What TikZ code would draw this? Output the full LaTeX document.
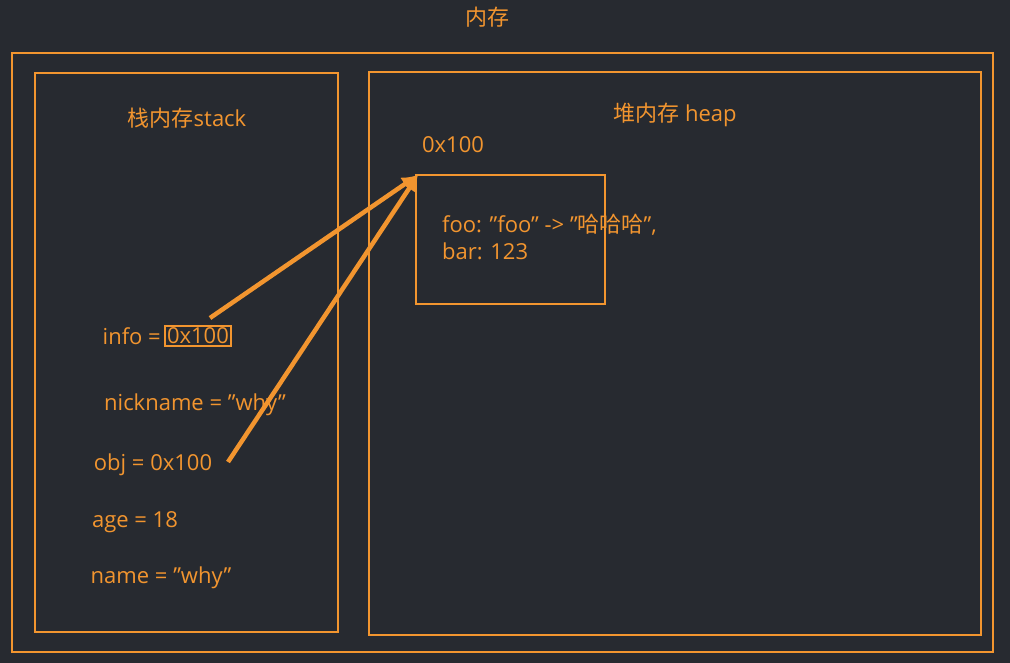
\documentclass[tikz,border=0pt]{standalone}
\usepackage{fontspec}
\usetikzlibrary{arrows.meta}
\setmainfont{Open Sans}
\newfontfamily\cjk{Noto Sans CJK SC}
\begin{document}
\begin{tikzpicture}[x=1pt,y=-1pt,
  box/.style={draw=org,line width=2.2pt},
  lbl/.style={text=org,font=\fontsize{22}{27}\selectfont,inner sep=1pt},
  arr/.style={draw=org,line width=4.5pt,-{Latex[length=16pt,width=16pt]}}]
\definecolor{bg}{HTML}{272A30}
\definecolor{org}{HTML}{F2952F}
\fill[bg] (0,0) rectangle (1010,663);
\useasboundingbox (0,0) rectangle (1010,663);
\node[lbl] (title) at (487,17) {\cjk 内存};
\draw[box] (12,53) rectangle (993,652);
\draw[box] (35,73) rectangle (338,632);
\draw[box] (369,72) rectangle (981,635);
\node[lbl] (stk) at (187,118) {{\cjk 栈内存}stack};
\node[lbl] (hp) at (675,115) {{\cjk 堆内存} heap};
\node[lbl] (addr) at (453,145) {0x100};
\node[box,minimum width=189pt,minimum height=129pt,anchor=north west] (obj) at (415,174) {};
\node[lbl,anchor=west,align=left] (fields) at (441,237) {foo: \symbol{"22}foo\symbol{"22} -> \symbol{"22}{\cjk 哈哈哈}\symbol{"22},\\bar: 123};
\node[lbl,anchor=east] (info) at (162,336) {info =};
\node[lbl,draw=org,line width=2pt,inner sep=2pt,anchor=west] (infov) at (164,336) {0x100};
\node[lbl] (nick) at (195,405) {nickname = \symbol{"22}why\symbol{"22}};
\node[lbl] (objv) at (153,465) {obj = 0x100};
\node[lbl] (age) at (135,522) {age = 18};
\node[lbl] (name) at (161,578) {name = \symbol{"22}why\symbol{"22}};
\coordinate (tgt) at (418,175);
\coordinate (s1) at (210,318);
\coordinate (s2) at (228,462);
\draw[arr] (s1) -- (tgt);
\draw[arr] (s2) -- (tgt);
\end{tikzpicture}
\end{document}
